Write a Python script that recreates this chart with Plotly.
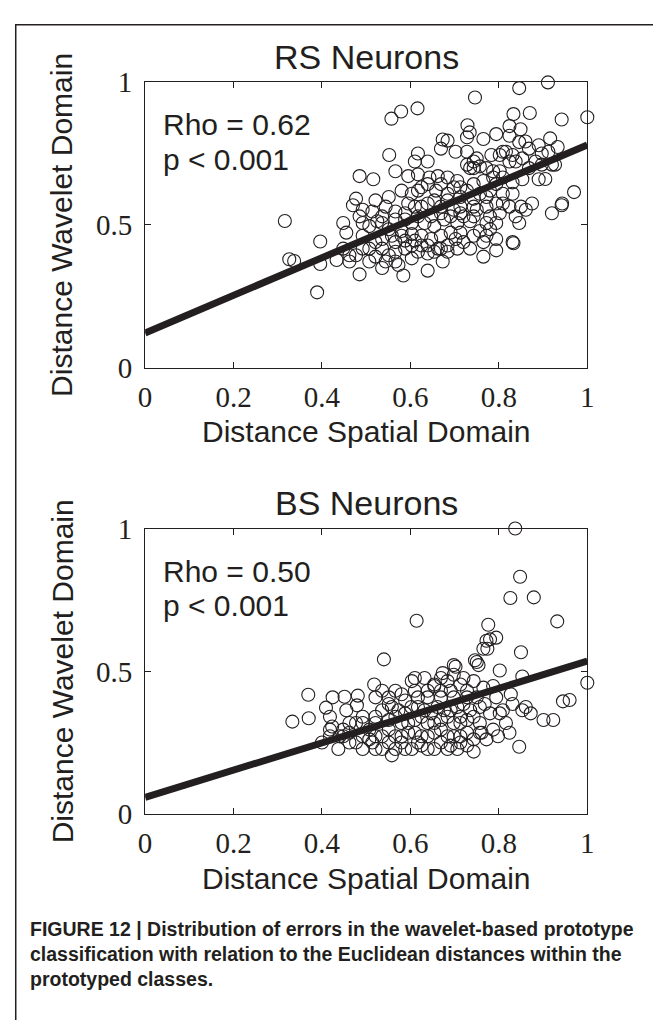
import plotly.graph_objects as go

# The page body keeps its default 8px margin, so the figure is drawn 16px
# smaller than the window and every reference pixel position is shifted by 8.
PAGE_W, PAGE_H, OFF = 661, 1028, 8
W, H = PAGE_W - 2 * OFF, PAGE_H - 2 * OFF

# ---------------- data ----------------
rs_x = [0.911,0.846,0.746,0.616,0.579,0.557,0.833,0.870,0.942,1.0,
        0.824,0.849,0.729,0.734,0.728,0.765,0.794,0.673,0.684,0.669,
        0.702,0.860,0.916,0.933,0.897,0.868,0.816,0.831,0.802,0.552,
        0.617,0.610,0.639,0.743,0.757,0.735,0.787,0.772,0.802,0.838,
        0.853,0.883,0.927,0.485,0.516,0.566,0.595,0.617,0.643,0.662,
        0.684,0.706,0.713,0.743,0.765,0.794,0.890,0.853,0.831,0.477,
        0.470,0.551,0.580,0.603,0.625,0.658,0.684,0.713,0.743,0.772,
        0.794,0.831,0.861,0.850,0.920,0.942,0.514,0.536,0.566,0.588,
        0.610,0.639,0.669,0.698,0.720,0.750,0.780,0.802,0.846,0.316,
        0.448,0.455,0.492,0.507,0.525,0.551,0.580,0.603,0.632,0.654,
        0.676,0.706,0.735,0.757,0.780,0.396,0.492,0.521,0.536,0.566,
        0.588,0.610,0.639,0.662,0.684,0.702,0.720,0.772,0.794,0.831,
        0.833,0.326,0.337,0.396,0.433,0.462,0.477,0.492,0.521,0.544,
        0.551,0.573,0.588,0.625,0.654,0.669,0.765,0.794,0.485,0.584,
        0.639,0.673,0.389,0.920,0.970,0.943,0.905,
        0.728,0.750,0.783,0.809,0.824,0.868,0.897,0.728,0.743,0.787,
        0.809,0.617,0.639,0.669,0.698,0.728,0.757,0.780,0.809,0.595,
        0.625,0.654,0.684,0.713,0.743,0.772,0.809,0.536,0.566,0.588,
        0.617,0.647,0.669,0.691,0.713,0.743,0.772,0.794,0.558,0.580,
        0.603,0.625,0.647,0.669,0.691,0.713,0.743,0.765,0.507,0.536,
        0.566,0.603,0.617,0.639,0.684,0.706,0.735,0.448,0.462,0.507,
        0.536,0.566,0.603,0.824,0.846,0.890,0.912,0.492,0.485,0.521,
        0.544,0.824,0.838,0.875]
rs_y = [0.999,0.979,0.946,0.908,0.897,0.872,0.888,0.892,0.869,0.877,
        0.846,0.835,0.849,0.824,0.807,0.801,0.818,0.799,0.795,0.767,
        0.756,0.792,0.803,0.773,0.750,0.767,0.756,0.745,0.745,0.745,
        0.750,0.722,0.722,0.722,0.705,0.699,0.688,0.699,0.688,0.722,
        0.733,0.722,0.711,0.671,0.660,0.688,0.671,0.677,0.666,0.671,
        0.666,0.654,0.632,0.643,0.654,0.643,0.660,0.660,0.649,0.592,
        0.569,0.598,0.620,0.609,0.632,0.620,0.609,0.598,0.592,0.598,
        0.575,0.609,0.553,0.564,0.541,0.569,0.547,0.530,0.547,0.541,
        0.564,0.575,0.564,0.553,0.530,0.553,0.530,0.541,0.507,0.514,
        0.507,0.473,0.507,0.496,0.513,0.485,0.479,0.507,0.507,0.496,
        0.519,0.507,0.513,0.479,0.485,0.442,0.462,0.440,0.451,0.440,
        0.445,0.445,0.428,0.417,0.428,0.451,0.440,0.462,0.451,0.440,
        0.436,0.380,0.374,0.363,0.377,0.372,0.394,0.417,0.389,0.372,
        0.394,0.360,0.417,0.428,0.406,0.417,0.389,0.411,0.327,0.323,
        0.340,0.372,0.264,0.711,0.615,0.575,0.661,
        0.756,0.733,0.745,0.756,0.722,0.699,0.711,0.711,0.699,0.666,
        0.666,0.620,0.643,0.643,0.632,0.620,0.609,0.620,0.609,0.575,
        0.564,0.586,0.586,0.564,0.564,0.564,0.575,0.507,0.519,0.519,
        0.530,0.530,0.541,0.530,0.541,0.530,0.507,0.507,0.462,0.462,
        0.468,0.462,0.451,0.462,0.473,0.473,0.462,0.440,0.417,0.417,
        0.406,0.428,0.406,0.400,0.406,0.417,0.417,0.417,0.394,0.372,
        0.349,0.372,0.383,0.812,0.790,0.779,0.756,0.553,0.530,0.586,
        0.564,0.564,0.530,0.575]

bs_x = [0.837,0.848,0.826,0.879,0.932,0.614,0.776,0.794,0.772,0.774,
        0.850,0.540,0.746,0.754,0.702,0.673,0.802,0.853,0.945,0.923,
        0.901,0.872,0.853,0.827,0.802,0.780,0.798,0.824,0.846,0.761,
        0.743,0.518,0.610,0.654,0.698,0.720,0.787,0.369,0.333,0.370,
        0.424,0.409,0.451,0.479,0.481,0.423,0.462,0.400,0.437,0.492,
        0.536,0.566,0.551,0.588,0.617,0.639,0.669,0.691,0.728,0.750,
        0.768,0.521,0.507,0.536,0.521,0.558,0.588,0.625,0.639,0.669,
        0.691,0.713,0.566,0.595,0.625,0.654,0.684,0.713,0.743,0.551,
        0.580,0.610,0.639,0.669,0.698,0.728,0.573,0.602,0.632,0.661,
        0.691,0.720,0.713,0.448,0.477,0.507,0.492,0.462,0.418,1.0,0.96,
        0.418,0.440,0.462,0.492,0.514,0.536,0.551,0.566,0.580,0.603,
        0.617,0.654,0.684,0.706,0.728,0.521,0.566,0.595,0.625,0.654,
        0.684,0.713,0.743,0.772,0.492,0.521,0.551,0.580,0.610,0.639,
        0.669,0.698,0.728,0.757,0.536,0.558,0.588,0.617,0.647,0.676,
        0.706,0.735,0.757,0.521,0.551,0.580,0.610,0.639,0.669,0.698,
        0.728,0.603,0.632,0.654,0.684,0.713,0.743,0.765,0.794,0.809,
        0.831,0.861,0.816,0.787,0.757,0.448,0.418,0.455,0.477,0.698,
        0.669,0.750,0.765,0.780]
bs_y = [1.0,0.831,0.757,0.759,0.675,0.677,0.663,0.618,0.607,0.579,
        0.567,0.542,0.539,0.522,0.516,0.494,0.503,0.482,0.395,0.330,
        0.330,0.353,0.364,0.420,0.353,0.353,0.273,0.285,0.236,0.285,
        0.219,0.454,0.477,0.449,0.488,0.477,0.449,0.418,0.324,0.336,
        0.409,0.373,0.411,0.381,0.415,0.307,0.319,0.251,0.228,0.273,
        0.432,0.432,0.386,0.398,0.409,0.432,0.409,0.432,0.432,0.409,
        0.386,0.341,0.296,0.273,0.228,0.206,0.228,0.240,0.228,0.251,
        0.240,0.251,0.341,0.319,0.341,0.319,0.341,0.319,0.341,0.296,
        0.273,0.285,0.273,0.296,0.273,0.285,0.364,0.375,0.364,0.375,
        0.364,0.386,0.341,0.273,0.251,0.262,0.319,0.285,0.273,0.46,0.40,
        0.296,0.273,0.251,0.228,0.251,0.228,0.251,0.228,0.251,0.228,
        0.251,0.228,0.228,0.228,0.240,0.273,0.273,0.285,0.273,0.285,
        0.273,0.273,0.262,0.262,0.341,0.319,0.330,0.319,0.330,0.319,
        0.330,0.319,0.330,0.319,0.364,0.375,0.353,0.375,0.353,0.364,
        0.375,0.364,0.375,0.409,0.409,0.420,0.432,0.409,0.432,0.409,
        0.409,0.466,0.477,0.454,0.466,0.454,0.466,0.443,0.409,0.364,
        0.386,0.375,0.319,0.296,0.285,0.296,0.341,0.364,0.319,0.522,
        0.477,0.533,0.579,0.612]

rs_fit_x = [0.0, 1.0]
rs_fit_y = [0.122, 0.780]
bs_fit_x = [0.0, 1.0]
bs_fit_y = [0.059, 0.536]

x_ticks = [0, 0.2, 0.4, 0.6, 0.8, 1]
x_tick_labels = ["0", "0.2", "0.4", "0.6", "0.8", "1"]
y_ticks = [0, 0.5, 1]
y_tick_labels = ["0", "0.5", "1"]

panel_titles = ["RS Neurons", "BS Neurons"]
rho_texts = ["Rho = 0.62", "Rho = 0.50"]
p_text = "p &lt; 0.001"
x_label = "Distance Spatial Domain"
y_label = "Distance Wavelet Domain"
caption_lines = [
    "FIGURE 12 | Distribution of errors in the wavelet-based prototype",
    "classification with relation to the Euclidean distances within the",
    "prototyped classes.",
]

# ---------------- style ----------------
INK = "#231f20"
SANS = "Liberation Sans, Arial, Helvetica, sans-serif"
SERIF = "Liberation Serif, Times New Roman, serif"

def px_x(p):
    return (p - OFF) / W

def px_y(p):
    return 1 - (p - OFF) / H

X0, X1 = 141, 593
panels = [(68, 363), (529, 824)]  # top, bottom rows of each plot box (page pixels)

fig = go.Figure()

data_sets = [(rs_x, rs_y, rs_fit_x, rs_fit_y), (bs_x, bs_y, bs_fit_x, bs_fit_y)]
for i, (sx, sy, fx, fy) in enumerate(data_sets):
    xa = "x" if i == 0 else "x2"
    ya = "y" if i == 0 else "y2"
    fig.add_trace(go.Scatter(
        x=sx, y=sy, mode="markers", xaxis=xa, yaxis=ya, cliponaxis=False,
        marker=dict(symbol="circle-open", size=13, color=INK, line=dict(width=1.1)),
        showlegend=False, hoverinfo="skip"))
    fig.add_trace(go.Scatter(
        x=fx, y=fy, mode="lines", xaxis=xa, yaxis=ya,
        line=dict(color=INK, width=7), showlegend=False, hoverinfo="skip"))

axis_common = dict(
    range=[0, 1], showgrid=False, zeroline=False, showline=True, mirror="ticks",
    linecolor=INK, linewidth=1.3, ticks="inside", ticklen=6, tickwidth=1,
    tickcolor=INK, tickfont=dict(family=SERIF, size=29, color=INK),
)

layout = dict(
    width=W, height=H, margin=dict(l=0, r=0, t=0, b=0),
    paper_bgcolor="white", plot_bgcolor="white", showlegend=False,
)
for i, (top, bot) in enumerate(panels):
    sfx = "" if i == 0 else "2"
    layout["xaxis" + sfx] = dict(
        axis_common, domain=[px_x(X0), px_x(X1)], anchor="y" + sfx,
        tickvals=x_ticks, ticktext=x_tick_labels, ticklabelstandoff=3)
    layout["yaxis" + sfx] = dict(
        axis_common, domain=[px_y(bot), px_y(top)], anchor="x" + sfx,
        tickvals=y_ticks, ticktext=y_tick_labels, ticklabelstandoff=6)
fig.update_layout(**layout)

ann = []
for i, (top, bot) in enumerate(panels):
    off = 0 if i == 0 else 461
    cx = px_x((X0 + X1) / 2)
    ann.append(dict(text=panel_titles[i], x=cx, y=px_y(42 + off), xref="paper", yref="paper",
                    xanchor="center", yanchor="middle", showarrow=False,
                    font=dict(family=SANS, size=34, color=INK)))
    ann.append(dict(text=rho_texts[i], x=px_x(157), y=px_y(112 + off), xref="paper", yref="paper",
                    xanchor="left", yanchor="middle", showarrow=False,
                    font=dict(family=SANS, size=30, color=INK)))
    ann.append(dict(text=p_text, x=px_x(157), y=px_y(148 + off), xref="paper", yref="paper",
                    xanchor="left", yanchor="middle", showarrow=False,
                    font=dict(family=SANS, size=30, color=INK)))
    ann.append(dict(text=x_label, x=cx, y=px_y(429 + off), xref="paper", yref="paper",
                    xanchor="center", yanchor="middle", showarrow=False,
                    font=dict(family=SANS, size=30, color=INK)))
    ann.append(dict(text=y_label, x=px_x(56), y=px_y((top + bot) / 2), xref="paper", yref="paper",
                    xanchor="center", yanchor="middle", textangle=-90, showarrow=False,
                    font=dict(family=SANS, size=30, color=INK)))

for j, line in enumerate(caption_lines):
    ann.append(dict(text="<b>" + line + "</b>", x=px_x(21), y=px_y(943 + 25.5 * j),
                    xref="paper", yref="paper", xanchor="left", yanchor="middle",
                    showarrow=False, font=dict(family=SANS, size=19.5, color=INK)))
fig.update_layout(annotations=ann)

# frame around the figure panel (only its left and top edges are in view)
fig.add_shape(type="rect", xref="paper", yref="paper",
              x0=px_x(8.75), x1=1.05, y0=-0.05, y1=px_y(8.75),
              line=dict(color=INK, width=1.5), fillcolor="rgba(0,0,0,0)")

fig.write_html("out.html")
